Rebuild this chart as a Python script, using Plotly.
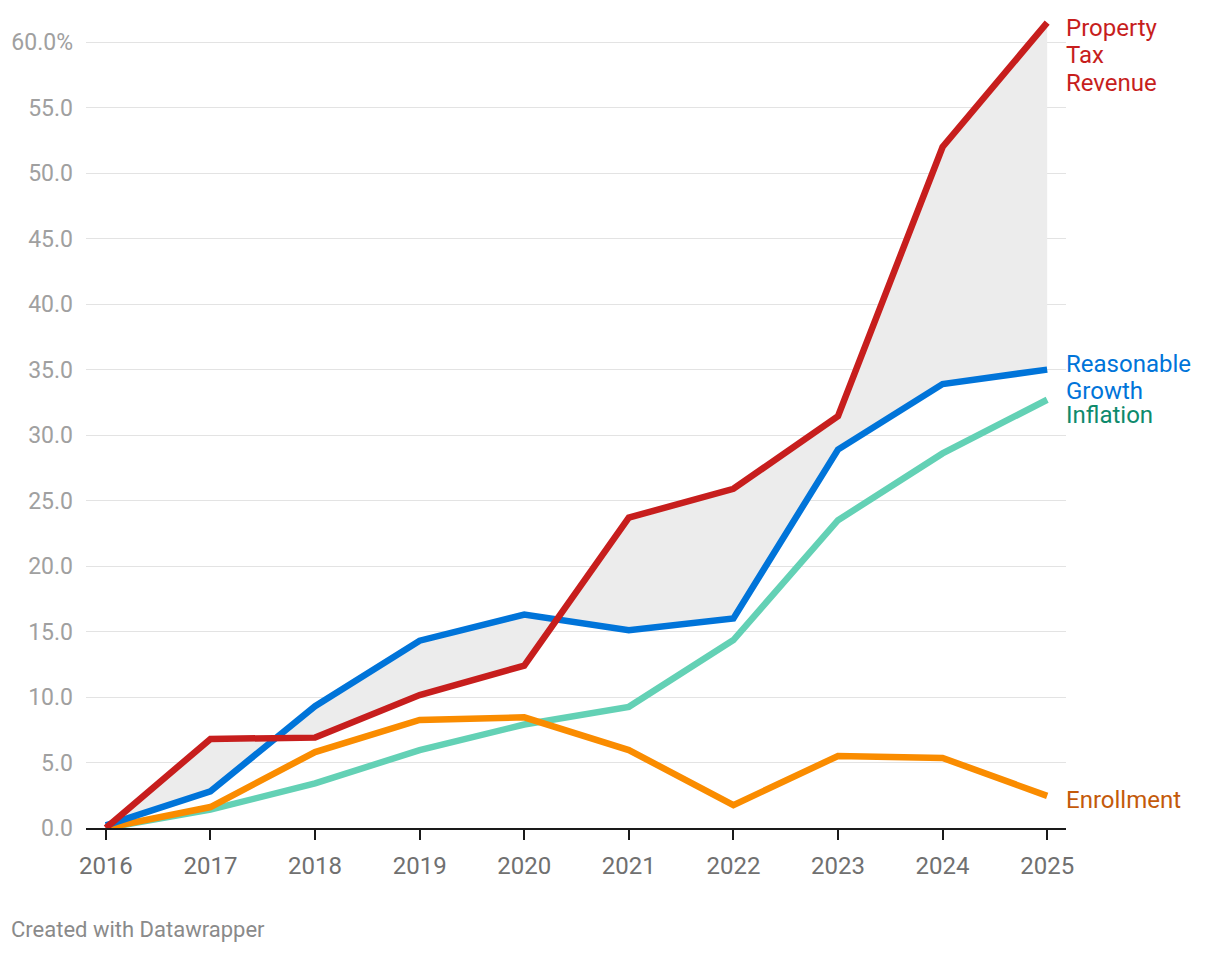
import plotly.graph_objects as go

years = [2016, 2017, 2018, 2019, 2020, 2021, 2022, 2023, 2024, 2025]
property_tax = [0.0, 6.8, 6.9, 10.15, 12.4, 23.7, 25.9, 31.45, 52.0, 61.5]
reasonable_growth = [0.2, 2.8, 9.3, 14.3, 16.3, 15.1, 16.0, 28.9, 33.9, 35.0]
inflation = [0.0, 1.4, 3.4, 5.95, 7.9, 9.25, 14.35, 23.5, 28.6, 32.7]
enrollment = [0.0, 1.6, 5.8, 8.25, 8.45, 5.95, 1.75, 5.5, 5.35, 2.45]

y_ticks = [0, 5, 10, 15, 20, 25, 30, 35, 40, 45, 50, 55, 60]
y_ticktext = ["0.0", "5.0", "10.0", "15.0", "20.0", "25.0", "30.0", "35.0", "40.0",
              "45.0", "50.0", "55.0", "60.0%"]

RED = "#c71e1d"
BLUE = "#0074d9"
TEAL = "#63d1b5"
ORANGE = "#fa8c00"

fig = go.Figure()
# shaded gap between reasonable growth and property tax
fig.add_trace(go.Scatter(x=years, y=reasonable_growth, mode="lines",
                         line=dict(width=0), hoverinfo="skip", showlegend=False))
fig.add_trace(go.Scatter(x=years, y=property_tax, mode="lines", fill="tonexty",
                         fillcolor="#ececec", line=dict(width=0),
                         hoverinfo="skip", showlegend=False))

for name, vals, col in [("Inflation", inflation, TEAL),
                        ("Enrollment", enrollment, ORANGE),
                        ("Reasonable Growth", reasonable_growth, BLUE),
                        ("Property Tax Revenue", property_tax, RED)]:
    fig.add_trace(go.Scatter(x=years, y=vals, mode="lines", name=name,
                             line=dict(color=col, width=6.5), showlegend=False,
                             cliponaxis=False))

# end labels, one annotation per text line (to control line spacing)
labels = [
    ("Property", property_tax[-1], RED, -5),
    ("Tax", property_tax[-1], RED, -32.5),
    ("Revenue", property_tax[-1], RED, -60),
    ("Reasonable", reasonable_growth[-1], BLUE, 5.5),
    ("Growth", reasonable_growth[-1], BLUE, -21),
    ("Inflation", inflation[-1], "#0e8a6c", -15.5),
    ("Enrollment", enrollment[-1], "#c45a0a", -4),
]
for text, yv, col, ys in labels:
    fig.add_annotation(x=years[-1], y=yv, text=text, showarrow=False,
                       xanchor="left", yanchor="middle", align="left",
                       xshift=17, yshift=ys,
                       font=dict(family="Roboto", size=24, color=col))

fig.add_annotation(xref="paper", yref="paper", x=-0.079, y=-0.125,
                   xanchor="left", yanchor="middle", showarrow=False,
                   text="Created with Datawrapper",
                   font=dict(family="Roboto", size=22, color="#8a8a8a"))

fig.update_layout(
    width=1220, height=954,
    margin=dict(l=86, r=154, t=16, b=126),
    paper_bgcolor="white", plot_bgcolor="white",
    font=dict(family="Roboto"),
    xaxis=dict(range=[2015.81, 2025.18], tickvals=years,
               ticktext=[str(y) for y in years],
               showgrid=False, zeroline=False,
               showline=True, linecolor="#1a1a1a", linewidth=2,
               ticks="outside", ticklen=10, tickwidth=2, tickcolor="#1a1a1a",
               ticklabelstandoff=5,
               tickfont=dict(family="Roboto", size=24, color="#707070")),
    yaxis=dict(range=[0, 62], tickvals=y_ticks, ticktext=y_ticktext,
               showgrid=True, gridcolor="#e3e3e3", gridwidth=1.3,
               zeroline=False, showline=False, ticks="",
               ticklabelstandoff=12,
               tickfont=dict(family="Roboto", size=23, color="#a0a0a0")),
)

fig.write_html("out.html")
